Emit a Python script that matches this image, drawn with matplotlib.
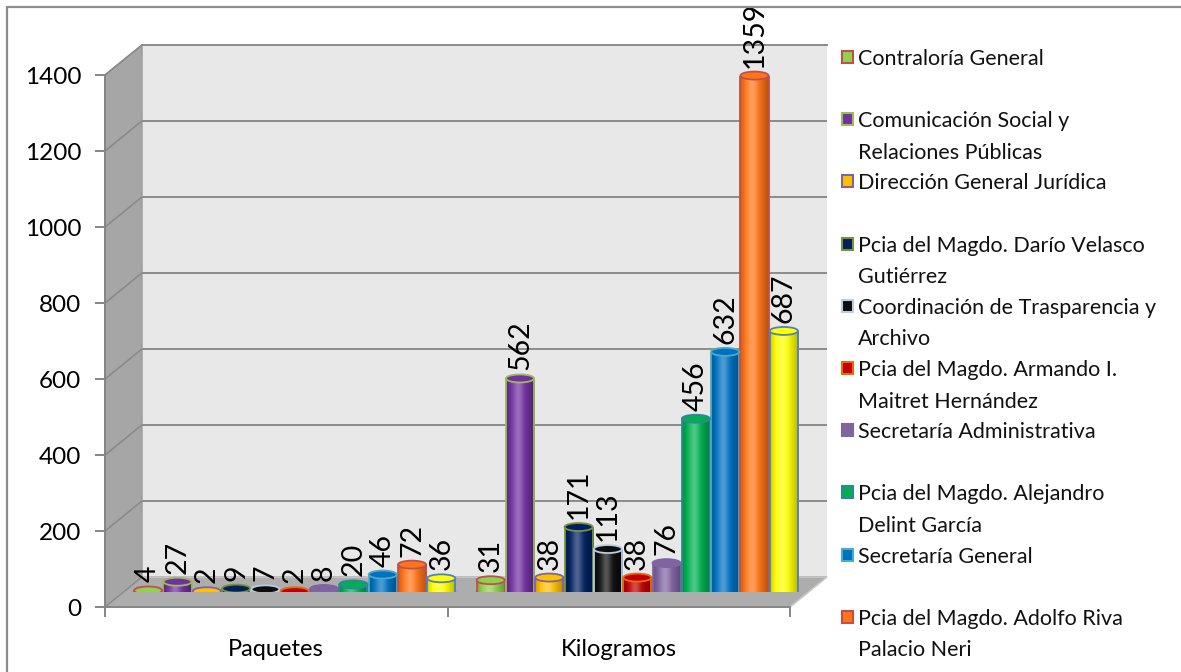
import textwrap

import matplotlib
matplotlib.use("Agg")
import matplotlib.pyplot as plt
import numpy as np
from matplotlib.colors import to_rgb
from matplotlib.lines import Line2D
from matplotlib.patches import Ellipse, Polygon, Rectangle
from matplotlib.transforms import IdentityTransform


CATEGORIES = ["Paquetes", "Kilogramos"]

SERIES = [
    "Contraloría General",
    "Comunicación Social y Relaciones Públicas",
    "Dirección General Jurídica",
    "Pcia del Magdo. Darío Velasco Gutiérrez",
    "Coordinación de Trasparencia y Archivo",
    "Pcia del Magdo. Armando I. Maitret Hernández",
    "Secretaría Administrativa",
    "Pcia del Magdo. Alejandro Delint García",
    "Secretaría General",
    "Pcia del Magdo. Adolfo Riva Palacio Neri",
    "Otra área",  # legend entry is cut off in the original
]

PAQUETES = [4, 27, 2, 9, 7, 2, 8, 20, 46, 72, 36]
KILOGRAMOS = [31, 562, 38, 171, 113, 38, 76, 456, 632, 1359, 687]

Y_TICKS = [0, 200, 400, 600, 800, 1000, 1200, 1400]

FILL = ["#92D050", "#7030A0", "#FFC000", "#002060", "#0D0D0D", "#C00000",
        "#8064A2", "#00B050", "#0070C0", "#FF7518", "#FFFF00"]
EDGE = ["#C0504D", "#9BBB59", "#8064A2", "#77933C", "#B9CDE5", "#E46C0A",
        "#8064A2", "#31859C", "#4BACC6", "#C0504D", "#4F81BD"]

LEGEND_SHOWN = 10

W, H = 1181, 672
FONT = "Lato"
GRID = "#8C8C8C"


def plane_rect(dx, dy):
    # front plane: x 105..790 px, y 607..75 px (image coords)
    return [(105 + dx) / W, (H - 607 + dy) / H, 685 / W, 532 / H]


def cylinder_colors(base, n=48):
    t = np.linspace(0, 1, n)
    light = 0.30 * np.exp(-((t - 0.42) / 0.18) ** 2)
    dark = 0.30 * np.clip((t - 0.55) / 0.45, 0, 1) ** 1.3 \
        + 0.18 * np.clip((0.2 - t) / 0.2, 0, 1)
    rgb = np.array(to_rgb(base))
    col = rgb + (1 - rgb) * light[:, None]
    col = col * (1 - dark[:, None])
    return col[None, :, :]


def main():
    plt.rcParams["font.family"] = [FONT, "DejaVu Sans"]

    fig = plt.figure(figsize=(W / 100, H / 100), dpi=100)

    # back wall
    ax_back = fig.add_axes(plane_rect(37, 30), zorder=0)
    ax_back.set_facecolor("#E8E8E8")
    ax_back.set_xlim(-0.5, 1.5)
    ax_back.set_ylim(0, 1400)
    ax_back.set_yticks(Y_TICKS)
    ax_back.set_xticks([])
    ax_back.tick_params(left=False, labelleft=False)
    ax_back.grid(axis="y", color=GRID, linewidth=1.4)
    for side in ["left", "right", "bottom"]:
        ax_back.spines[side].set_visible(False)
    ax_back.spines["top"].set_color(GRID)
    ax_back.spines["top"].set_linewidth(1.4)

    # front plane (axes, ticks, labels)
    ax_front = fig.add_axes(plane_rect(0, 0), zorder=1)
    ax_front.set_facecolor("none")
    ax_front.set_xlim(-0.5, 1.5)
    ax_front.set_ylim(0, 1400)
    ax_front.set_yticks(Y_TICKS)
    ax_front.set_yticklabels([str(v) for v in Y_TICKS])
    ax_front.set_xticks([-0.5, 0.5, 1.5])
    ax_front.set_xticklabels([])
    ax_front.set_xticks(range(len(CATEGORIES)), minor=True)
    ax_front.set_xticklabels(CATEGORIES, minor=True)
    ax_front.tick_params(axis="y", direction="out", length=7, width=1.4,
                         color="#868686", labelsize=17.5, pad=10)
    ax_front.tick_params(axis="x", which="major", direction="out", length=7,
                         width=1.4, color="#868686")
    ax_front.tick_params(axis="x", which="minor", length=0, labelsize=17,
                         pad=23)
    for side in ["top", "right"]:
        ax_front.spines[side].set_visible(False)
    for side in ["left", "bottom"]:
        ax_front.spines[side].set_color("#868686")
        ax_front.spines[side].set_linewidth(1.4)

    # side wall and floor joining front and back planes
    f = ax_front.transData
    b = ax_back.transData
    side = [f.transform((-0.5, 0)), f.transform((-0.5, 1400)),
            b.transform((-0.5, 1400)), b.transform((-0.5, 0))]
    fig.add_artist(Polygon(side, closed=True, transform=IdentityTransform(),
                           facecolor="#A6A6A6", edgecolor="#9A9A9A",
                           linewidth=1, zorder=0.5))
    for v in Y_TICKS:
        p0 = f.transform((-0.5, v))
        p1 = b.transform((-0.5, v))
        fig.add_artist(Line2D([p0[0], p1[0]], [p0[1], p1[1]],
                              transform=IdentityTransform(), color="#8A8A8A",
                              linewidth=1.2, zorder=0.6))
    floor = [f.transform((-0.5, 0)), f.transform((1.5, 0)),
             b.transform((1.5, 0)), b.transform((-0.5, 0))]
    fig.add_artist(Polygon(floor, closed=True, transform=IdentityTransform(),
                           facecolor="#ADADAD", edgecolor="#C8C8C8",
                           linewidth=1.2, zorder=0.5))

    # cylinders on the middle depth plane
    ax = fig.add_axes(plane_rect(18.5, 15), zorder=2)
    ax.set_facecolor("none")
    ax.axis("off")

    n = len(SERIES)
    step = 0.0856
    width = 0.082
    cap = 21  # ellipse height in data units
    data = np.array([PAQUETES, KILOGRAMOS])
    for c in range(len(CATEGORIES)):
        for i in range(n):
            v = data[c, i]
            x = c + (i - (n - 1) / 2) * step
            ax.add_patch(Ellipse((x, 0), width, cap, facecolor=FILL[i],
                                 edgecolor=EDGE[i], linewidth=1.3, zorder=3))
            ax.imshow(cylinder_colors(FILL[i]), aspect="auto",
                      extent=(x - width / 2, x + width / 2, 0, v),
                      interpolation="bilinear", zorder=4)
            ax.vlines([x - width / 2, x + width / 2], 0, v, colors=EDGE[i],
                      linewidth=1.3, zorder=5)
            ax.add_patch(Ellipse((x, v), width, cap, facecolor=FILL[i],
                                 edgecolor=EDGE[i], linewidth=1.3, zorder=6))
            ax.annotate(str(v), (x, v), xytext=(0, 8),
                        textcoords="offset pixels", rotation=90,
                        ha="center", va="bottom", fontsize=20.5, zorder=7)
    ax.set_xlim(-0.5, 1.5)
    ax.set_ylim(0, 1400)

    # legend (Excel style, fixed slots, wrapped names)
    for i in range(LEGEND_SHOWN):
        y = H - (57 + 62.2 * i)
        fig.add_artist(Rectangle((842 / W, (y - 6) / H), 11 / W, 12 / H,
                                 facecolor=FILL[i], edgecolor=EDGE[i],
                                 linewidth=1.5, zorder=3))
        fig.text(858 / W, (y + 8) / H, textwrap.fill(SERIES[i], 30),
                 ha="left", va="top", fontsize=15.5, linespacing=1.72,
                 color="#111111")

    # chart area border
    fig.add_artist(Rectangle((7 / W, -0.05), 1.1, 1 - 7 / H + 0.05,
                             facecolor="none", edgecolor="#8C8C8C",
                             linewidth=1.6, zorder=10))

    fig.savefig("out.png", dpi=100)
    plt.close(fig)


if __name__ == "__main__":
    main()
